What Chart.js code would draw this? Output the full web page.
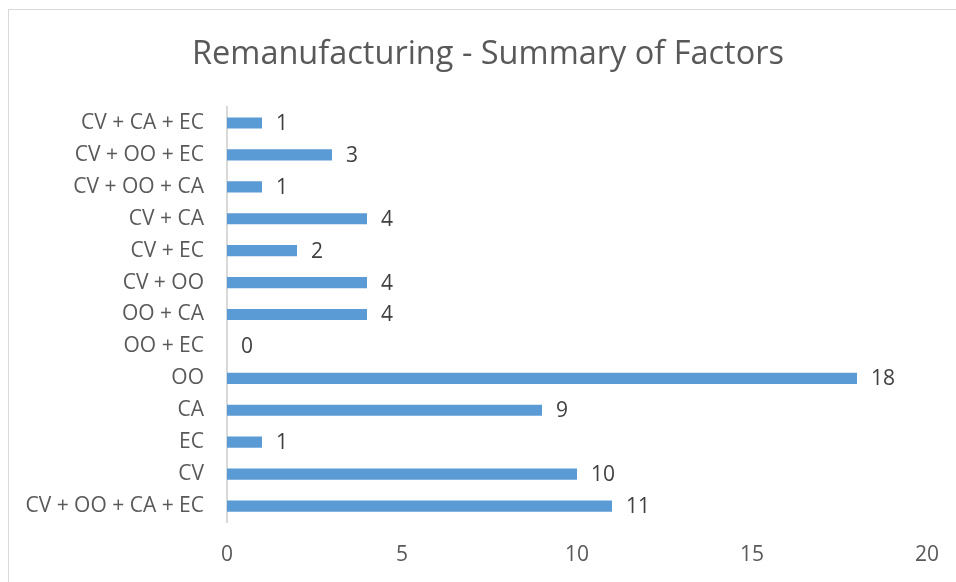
<!DOCTYPE html>
<html>
<head>
<meta charset="utf-8">
<script src="https://cdn.jsdelivr.net/npm/chart.js@4.4.1/dist/chart.umd.min.js"></script>
<style>
  html, body { margin: 0; padding: 0; background: #fff; overflow: hidden; }
  #wrap { position: relative; width: 956px; height: 582px; overflow: hidden; }
  #frame { position: absolute; left: 8px; top: 9px; width: 1000px; height: 600px;
           border: 1px solid #D9D9D9; box-sizing: border-box; }
  #c { position: absolute; left: 0; top: 0; }
</style>
</head>
<body>
<div id="wrap">
  <div id="frame"></div>
  <canvas id="c" width="956" height="582"></canvas>
</div>
<script>
// Factor combinations, listed top to bottom
const categories = [
  "CV + CA + EC", "CV + OO + EC", "CV + OO + CA", "CV + CA", "CV + EC",
  "CV + OO", "OO + CA", "OO + EC", "OO", "CA", "EC", "CV", "CV + OO + CA + EC"
];
const counts = [1, 3, 1, 4, 2, 4, 4, 0, 18, 9, 1, 10, 11];
const xTicks = [0, 5, 10, 15, 20];

const FONT = "'Open Sans', 'Liberation Sans', sans-serif";

// Writes each bar's value just past its end
const valueLabels = {
  id: 'valueLabels',
  afterDatasetsDraw(chart) {
    const ctx = chart.ctx;
    const meta = chart.getDatasetMeta(0);
    ctx.save();
    ctx.font = "21px " + FONT;
    ctx.fillStyle = "#404040";
    ctx.textAlign = "left";
    ctx.textBaseline = "middle";
    meta.data.forEach((bar, i) => {
      ctx.fillText(String(counts[i]), bar.x + 14, bar.y + 1);
    });
    ctx.restore();
  }
};

// Centres the title over the whole framed chart rather than the plot
const titleSpan = {
  id: 'titleSpan',
  afterLayout(chart) {
    const t = chart.titleBlock;
    if (t) { t.left = 49; t.width = t.right - t.left; }
  }
};

new Chart(document.getElementById('c'), {
  type: 'bar',
  data: {
    labels: categories,
    datasets: [{
      data: counts,
      backgroundColor: '#5B9BD5',
      borderWidth: 0,
      categoryPercentage: 0.7,
      barPercentage: 0.5
    }]
  },
  options: {
    indexAxis: 'y',
    responsive: false,
    animation: false,
    devicePixelRatio: 1,
    layout: { padding: { left: 0, right: 29, top: 0, bottom: 0 } },
    plugins: {
      legend: { display: false },
      tooltip: { enabled: false },
      title: {
        display: true,
        text: 'Remanufacturing - Summary of Factors',
        color: '#595959',
        font: { family: FONT, size: 32.5, weight: 'normal' },
        padding: { top: 35, bottom: 33 }
      }
    },
    scales: {
      x: {
        min: 0,
        max: 20,
        afterBuildTicks(scale) { scale.ticks = xTicks.map(v => ({ value: v })); },
        afterFit(scale) {
          scale.height = 60;
          scale.paddingLeft = 0;
          scale.paddingRight = 0;
        },
        grid: { display: false, drawTicks: false },
        border: { display: false },
        ticks: {
          color: '#595959',
          padding: 20,
          font: { family: FONT, size: 21 }
        }
      },
      y: {
        afterFit(scale) { scale.width = 227; },
        grid: { display: false, drawTicks: false },
        border: { display: true, color: '#D9D9D9', width: 2 },
        ticks: {
          color: '#595959',
          padding: 23,
          font: { family: FONT, size: 21 }
        }
      }
    }
  },
  plugins: [titleSpan, valueLabels]
});
</script>
</body>
</html>
